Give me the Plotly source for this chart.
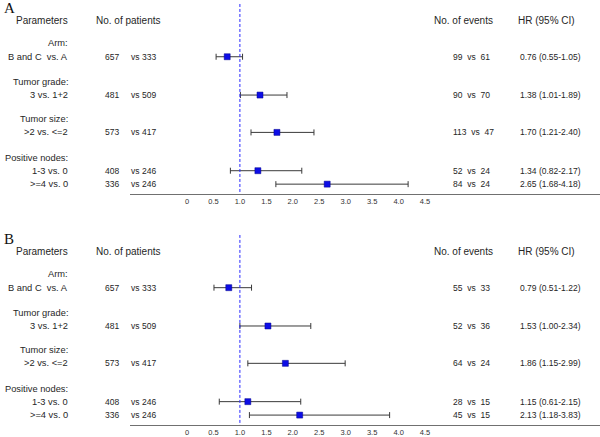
import plotly.graph_objects as go

# ---------------- data ----------------
group_labels = ["Arm:", "Tumor grade:", "Tumor size:", "Positive nodes:"]
comparisons = ["B and C\u00a0\u00a0vs. A", "3 vs. 1+2", ">2 vs. <=2", "1-3 vs. 0", ">=4 vs. 0"]
patients_1 = [657, 481, 573, 408, 336]
patients_2 = [333, 509, 417, 246, 246]

events_A_1 = [99, 90, 113, 52, 84]
events_A_2 = [61, 70, 47, 24, 24]
hr_A = [0.76, 1.38, 1.70, 1.34, 2.65]
lo_A = [0.55, 1.01, 1.21, 0.82, 1.68]
hi_A = [1.05, 1.89, 2.40, 2.17, 4.18]

events_B_1 = [55, 52, 64, 28, 45]
events_B_2 = [33, 36, 24, 15, 15]
hr_B = [0.79, 1.53, 1.86, 1.15, 2.13]
lo_B = [0.51, 1.00, 1.15, 0.61, 1.18]
hi_B = [1.22, 2.34, 2.99, 2.15, 3.83]

tick_vals = [0, 0.5, 1.0, 1.5, 2.0, 2.5, 3.0, 3.5, 4.0, 4.5]
tick_text = ["0", "0.5", "1.0", "1.5", "2.0", "2.5", "3.0", "3.5", "4.0", "4.5"]
reference_hr = 1.0

# ---------------- layout ----------------
W, H = 600, 437
row_y = [36.5, 75, 112.5, 151, 164.5]
group_y = [23, 61.5, 99.5, 138]
axis_y = 174.5
top_y = -16.5
panel_header_px = [20.5, 252.5]
x0_px, unit_px = 187.0, 52.9
x_left_px = 130.0

def xv(px):
    return (px - x0_px) / unit_px

SANS = "Liberation Sans, Arial, sans-serif"
NARROW = "Liberation Sans Narrow, Liberation Sans, Arial, sans-serif"
SERIF = "Liberation Serif, Times New Roman, serif"
TXT = "#262626"

fig = go.Figure()
annotations = []
shapes = []

panels = [
    ("A", events_A_1, events_A_2, hr_A, lo_A, hi_A),
    ("B", events_B_1, events_B_2, hr_B, lo_B, hi_B),
]

def ann(text, xpx, y, yref, anchor, size, font=SANS, color=TXT):
    annotations.append(dict(text=text, x=xpx / W, xref="paper", y=y, yref=yref,
                            xanchor=anchor, yanchor="middle", showarrow=False,
                            font=dict(family=font, size=size, color=color)))

for i, (letter, e1, e2, hr, lo, hi) in enumerate(panels):
    n = "" if i == 0 else str(i + 1)
    xa, ya = "x" + n, "y" + n
    h = panel_header_px[i]
    dom = [1 - (h + axis_y) / H, 1 - (h + top_y) / H]

    fig.add_trace(go.Scatter(
        x=hr, y=row_y, mode="markers", xaxis=xa, yaxis=ya, showlegend=False,
        hoverinfo="skip",
        marker=dict(symbol="square", size=6, color="#0d0de6",
                    line=dict(width=0.5, color="#00008a")),
        error_x=dict(type="data", symmetric=False,
                     array=[b - a for a, b in zip(hr, hi)],
                     arrayminus=[a - b for a, b in zip(hr, lo)],
                     color="#3a3a3a", thickness=1, width=3),
    ))

    axkey = "xaxis" + n
    aykey = "yaxis" + n
    fig.update_layout(**{
        axkey: dict(domain=[x_left_px / W, 1], range=[xv(x_left_px), xv(W)],
                    anchor=ya, showline=True, linecolor="#707070", linewidth=1,
                    showgrid=False, zeroline=False, ticks="",
                    tickvals=tick_vals, ticktext=tick_text,
                    tickfont=dict(family=NARROW, size=7.5, color="#333")),
        aykey: dict(domain=dom, range=[axis_y, top_y], anchor=xa,
                    showgrid=False, zeroline=False, showticklabels=False,
                    showline=False, ticks=""),
    })

    shapes.append(dict(type="line", xref=xa, yref=ya, x0=reference_hr, x1=reference_hr,
                       y0=top_y, y1=axis_y,
                       line=dict(color="#2a2aff", width=1, dash="3px,2px")))

    # panel letter
    annotations.append(dict(text=letter, x=2 / W, xref="paper",
                            y=1 - (h - 12.5) / H, yref="paper",
                            xanchor="left", yanchor="middle", showarrow=False,
                            font=dict(family=SERIF, size=15, color="#111")))
    # headers
    ann("Parameters", 14, 0, ya, "left", 10)
    ann("No. of patients", 94, 0, ya, "left", 10)
    ann("No. of events", 432, 0, ya, "left", 10)
    ann("HR (95% CI)", 516, 0, ya, "left", 10)

    for g, gy in zip(group_labels, group_y):
        ann(g, 70, gy, ya, "right", 9.3)
    for k, ry in enumerate(row_y):
        ann(comparisons[k], 70, ry, ya, "right", 9.3)
        ann(str(patients_1[k]), 121, ry, ya, "right", 8.5, NARROW)
        ann("vs", 129, ry, ya, "left", 8.5, NARROW)
        ann(str(patients_2[k]), 140, ry, ya, "left", 8.5, NARROW)
        ann(f"{e1[k]}\u00a0\u00a0vs\u00a0\u00a0{e2[k]}", 451, ry, ya, "left", 8.5, NARROW)
        ann(f"{hr[k]:.2f} ({lo[k]:.2f}-{hi[k]:.2f})", 583, ry, ya, "right", 8.5, NARROW)

fig.update_layout(width=W, height=H, margin=dict(l=0, r=0, t=0, b=0),
                  paper_bgcolor="white", plot_bgcolor="white",
                  annotations=annotations, shapes=shapes, showlegend=False)

fig.write_html("out.html", config={"displayModeBar": False},
               post_script="document.body.style.margin='0';document.body.style.padding='0';")
